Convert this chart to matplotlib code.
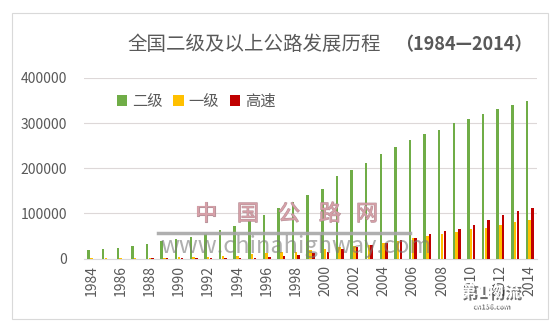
import matplotlib
matplotlib.use('Agg')
import matplotlib.pyplot as plt
import matplotlib.patheffects as pe
from matplotlib.patches import Rectangle
from matplotlib.lines import Line2D
import numpy as np

plt.rcParams['font.family'] = ['Noto Sans CJK SC', 'DejaVu Sans']

# 公路里程（公里）
years = list(range(1984, 2015))
erji = [18000, 20500, 23500, 28000, 32500, 38000, 42500, 47600, 55000, 63000,
        72000, 85000, 97500, 111000, 124500, 140000, 153000, 182000, 197000,
        212000, 232000, 246500, 263000, 276500, 285500, 301000, 308500,
        321000, 331500, 341000, 348500]
yiji = [300, 400, 750, 1300, 1700, 2100, 2600, 2900, 3600, 4600, 6300, 9600,
        11800, 14600, 15300, 18000, 20000, 25500, 27300, 29500, 33300, 38300,
        44500, 50000, 54000, 59000, 64300, 68000, 74300, 80000, 85000]
gaosu = [0, 0, 0, 0, 150, 270, 520, 570, 650, 1150, 1600, 2100, 3400, 4800,
         8700, 11200, 14700, 21000, 25500, 31000, 34500, 40800, 45500, 53800,
         60000, 65000, 74000, 84800, 96300, 104200, 111500]
series_names = ['二级', '一级', '高速']
yticks = [0, 100000, 200000, 300000, 400000]

W, H = 560, 330
fig = plt.figure(figsize=(W / 100, H / 100), dpi=100)
ax = fig.add_axes([84 / W, 1 - 258.5 / H, (537 - 84) / W, (258.5 - 78) / H])

x = np.arange(len(years))
bw = 0.17
ax.bar(x - 0.19, erji, bw, color='#70AD47', label=series_names[0], zorder=3)
ax.bar(x, yiji, bw, color='#FFC000', label=series_names[1], zorder=3)
ax.bar(x + 0.19, gaosu, bw, color='#C00000', label=series_names[2], zorder=3)

ax.set_xlim(-0.5, len(years) - 0.5)
ax.set_ylim(0, 400000)
ax.set_yticks(yticks)
ax.set_yticklabels([str(v) for v in yticks])
ax.set_xticks(x[::2])
ax.set_xticklabels([str(y) for y in years[::2]], rotation=90)
ax.tick_params(length=0, colors='#595959', labelsize=10)
ax.tick_params(axis='y', pad=12)
ax.tick_params(axis='x', pad=5)
ax.yaxis.grid(True, color='#DDD8D8', lw=0.8)
ax.set_axisbelow(True)
for s in ['top', 'right', 'left']:
    ax.spines[s].set_visible(False)
ax.spines['bottom'].set_color('#D9D9D9')

# 标题
fig.text(127 / W, 1 - 45 / H, '全国二级及以上公路发展历程', fontsize=14,
         color='#595959', ha='left', va='center')
fig.text(532 / W, 1 - 45 / H, '（1984—2014）', fontsize=13, fontweight='bold',
         color='#595959', ha='right', va='center')

leg = ax.legend(loc='center left', bbox_to_anchor=(103 / W, 1 - 101 / H),
                bbox_transform=fig.transFigure, ncol=3, frameon=False,
                fontsize=11, handlelength=0.7, handleheight=0.7,
                handletextpad=0.3, columnspacing=0.7, labelcolor='#595959')

# 外框
fig.add_artist(Rectangle((12 / W, 1 - 319 / H), 536 / W, 306 / H, fill=False,
                         ec='#D9D9D9', lw=0.8, transform=fig.transFigure))

# 水印
for ch, cx in zip('中国公路网', [206, 248, 289, 330, 367]):
    fig.text(cx / W, 1 - 214 / H, ch, fontsize=16, color='#D8A0A8', alpha=0.85,
             ha='center', va='center', zorder=5,
             path_effects=[pe.withStroke(linewidth=0.8, foreground='#B08890')])
fig.add_artist(Line2D([158 / W, 410 / W], [1 - 233 / H, 1 - 233 / H],
                      color='#A6A6A6', lw=2.5, alpha=0.9))
fig.text(160 / W, 1 - 246 / H, 'www.chinahighway.com', fontsize=17,
         fontstyle='italic', color='#7A7A7A', alpha=0.6, ha='left',
         va='center', zorder=5)

# 角标
shadow = [pe.withSimplePatchShadow(offset=(1.5, -1.5), shadow_rgbFace='#303030',
                                   alpha=0.7)]
fig.text(490 / W, 1 - 292 / H, '第1物流', fontsize=12, fontweight='bold',
         color='white', ha='center', va='center', path_effects=shadow, zorder=6)
fig.text(490 / W, 1 - 305 / H, 'cn156.com', fontsize=5, fontweight='bold',
         color='white', ha='center', va='center', path_effects=shadow, zorder=6)

fig.savefig('out.png', dpi=100, facecolor='white')
